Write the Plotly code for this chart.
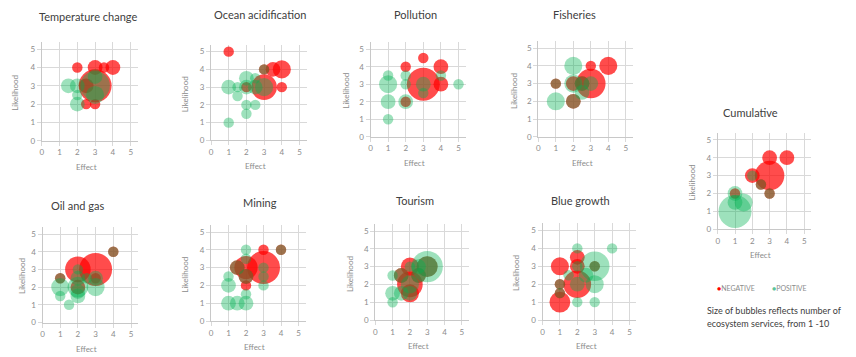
import plotly.graph_objects as go

# ---------------- data: (effect, likelihood, number of ecosystem services) ----------------
temp_neg = [(2, 4, 1), (3, 4, 2), (3.5, 4, 1), (4, 4, 2), (3, 3, 10), (2.5, 3, 2), (2.5, 2, 1), (3, 2, 1)]
temp_pos = [(1.5, 3, 2), (2, 3, 2), (2, 2.5, 1), (2, 2, 2), (3, 3.5, 2), (3, 2.5, 3), (3, 3, 8)]

ocean_neg = [(1, 5, 1), (3.5, 4, 2), (4, 4, 3), (3, 3, 6), (4, 3, 1), (2, 3, 1), (3, 4, 1)]
ocean_pos = [(1, 3, 2), (1, 1, 1), (1.5, 3, 1), (1.5, 2.5, 1), (2, 3.5, 2), (2, 3, 2), (2, 2, 1),
             (2, 1.5, 1), (2.5, 2, 1), (2.5, 3, 2), (2.5, 3.5, 1), (3, 4, 1), (3, 3, 3)]

poll_neg = [(2, 4, 1), (2, 2, 1), (3, 4.5, 1), (4, 4, 2), (3, 3, 10), (4, 3, 2)]
poll_pos = [(1, 3.5, 1), (1, 3, 3), (1, 2, 2), (1, 1, 1), (2, 3.5, 1), (2, 2, 2), (2, 3, 1),
            (3, 3, 2), (3, 2.5, 1), (4, 3.5, 1), (5, 3, 1)]

fish_neg = [(1, 3, 1), (2, 3, 2), (2, 2, 2), (3, 4, 1), (4, 4, 3), (3, 3, 8), (2.5, 3, 2)]
fish_pos = [(2, 4, 3), (1, 2, 3), (1, 3, 1), (2, 2, 2), (2, 3, 3), (2.5, 3, 2), (2.5, 2.5, 2), (3, 3, 2)]

oil_neg = [(4, 4, 1), (3, 3, 10), (2, 3, 6), (1, 2.5, 1), (2, 2, 2), (3, 2.5, 1)]
oil_pos = [(4, 4, 1), (1, 2.5, 1), (1, 2, 3), (1, 1.5, 1), (1.5, 1, 1), (2, 1.5, 2), (2, 2, 4),
           (2, 1.75, 2), (3, 2, 3), (3, 2.5, 2), (2, 3, 1), (2.5, 2.5, 1), (2, 2.5, 2)]

mining_neg = [(4, 4, 1), (3, 4, 1), (3, 3, 10), (2, 3, 5), (2, 2, 1), (1.5, 3, 2), (2, 2.5, 2)]
mining_pos = [(4, 4, 1), (2, 4, 1), (2, 3.5, 1), (1.5, 3, 2), (2, 2.5, 2), (1, 2.5, 1), (1, 2, 2),
              (1, 1, 2), (1.5, 1, 2), (2, 1, 2), (2, 1.5, 1), (3, 2, 1), (3, 2.5, 1), (3, 3, 1)]

tour_neg = [(2, 3, 3), (2, 2, 6), (2, 1.5, 3), (3, 3, 4), (2.5, 2.5, 2), (1.5, 2.5, 2)]
tour_pos = [(1, 2.5, 1), (1, 1.5, 2), (1, 1, 1), (1.5, 1.5, 2), (1.5, 2.5, 2), (2, 2, 3), (2, 1.5, 2),
            (2.5, 2.5, 2), (2.5, 3, 2), (3, 3, 9), (3, 3, 4), (2, 3, 1)]

blue_neg = [(1, 3, 3), (1, 1, 4), (2, 2, 7), (2, 3.5, 2), (2, 3, 2), (1, 2, 1), (1, 1.5, 1), (3, 3, 1)]
blue_pos = [(2, 4, 1), (4, 4, 1), (3, 3, 8), (3, 2, 3), (3, 1, 1), (2, 1, 1), (2, 3, 1), (3, 3, 1),
            (1, 2, 1), (1, 1.5, 1), (2, 2, 2), (2.5, 2.5, 2), (1.5, 2.5, 1)]

cum_neg = [(3, 4, 2), (4, 4, 2), (3, 3, 8), (2, 3, 2), (2.5, 2.5, 1), (3, 2, 1), (1, 2, 1)]
cum_pos = [(1, 1, 10), (1.5, 1.5, 3), (1, 1.5, 2), (1, 2, 2), (2, 3, 1), (2.5, 2.5, 1), (3, 2, 1)]

titles = ["Temperature change", "Ocean acidification", "Pollution", "Fisheries",
          "Oil and gas", "Mining", "Tourism", "Blue growth", "Cumulative"]
series = [(temp_neg, temp_pos), (ocean_neg, ocean_pos), (poll_neg, poll_pos), (fish_neg, fish_pos),
          (oil_neg, oil_pos), (mining_neg, mining_pos), (tour_neg, tour_pos), (blue_neg, blue_pos),
          (cum_neg, cum_pos)]
tick_vals = [0, 1, 2, 3, 4, 5]
legend_labels = ["NEGATIVE", "POSITIVE"]
note_lines = ["Size of bubbles reflects number of", "ecosystem services, from 1 -10"]

# ---------------- layout (pixels of the 856x357 window) ----------------
WIN_W, WIN_H = 856, 357
OFF = 8                      # default page margin around the plot div
W, H = WIN_W - OFF, WIN_H - OFF
AMAX = 5.4
# x pixel of effect 0, px per unit, y pixel of likelihood 0, px per unit, title x, title y, ylabel offset
geom = [
    (41.7, 17.8, 140.7, 18.3, 88, 17, 27),
    (211.0, 17.7, 140.4, 17.75, 260, 14.5, 26),
    (370.5, 17.6, 136.7, 17.5, 415, 14.5, 24),
    (538.3, 17.5, 136.7, 17.7, 574, 14.5, 25),
    (42.5, 17.7, 322.5, 17.7, 78, 205, 20),
    (211.0, 17.5, 321.0, 17.8, 260, 202, 26),
    (375.3, 17.3, 320.0, 17.8, 415, 200, 26),
    (542.5, 17.4, 320.0, 17.9, 580, 200, 26),
    (717.7, 17.3, 229.3, 17.9, 750, 112, 26),
]

NEG = "#ff0000"
POS = "rgba(0,176,80,0.55)"
SIZEREF = 2 * 10 / (33.0 ** 2)
FONT = "Lato, 'Liberation Sans', sans-serif"
GRID = "#d9d9d9"
TICKC = "#8c8c8c"

fig = go.Figure()
annotations = []


def px(x, y):
    return (x - OFF) / W, 1 - (y - OFF) / H


for i, (title, (neg, pos)) in enumerate(zip(titles, series)):
    x0, xs, y0, ys, tx, ty, yoff = geom[i]
    sfx = "" if i == 0 else str(i + 1)
    for pts, color in ((neg, NEG), (pos, POS)):
        fig.add_trace(go.Scatter(
            x=[p[0] for p in pts], y=[p[1] for p in pts], mode="markers",
            marker=dict(size=[p[2] for p in pts], sizemode="area", sizeref=SIZEREF,
                        color=color, line=dict(width=0)),
            xaxis="x" + sfx, yaxis="y" + sfx, showlegend=False, hoverinfo="skip"))
    common = dict(range=[0, AMAX], tickvals=tick_vals, showgrid=True, gridcolor=GRID, gridwidth=1,
                  zeroline=False, showline=True, linecolor="#c8c8c8", linewidth=1,
                  ticks="outside", ticklen=4, tickcolor=GRID, automargin=False,
                  tickfont=dict(family=FONT, size=8, color=TICKC), fixedrange=True)
    xa, _ = px(x0, 0)
    xb, _ = px(x0 + AMAX * xs, 0)
    _, ya = px(0, y0)
    _, yb = px(0, y0 - AMAX * ys)
    fig.layout["xaxis" + sfx] = dict(common, domain=[xa, xb], anchor="y" + sfx)
    fig.layout["yaxis" + sfx] = dict(common, domain=[ya, yb], anchor="x" + sfx)
    # title
    ax_, ay_ = px(tx, ty)
    annotations.append(dict(text=title, x=ax_, y=ay_, xref="paper", yref="paper", showarrow=False,
                            xanchor="center", yanchor="middle",
                            font=dict(family=FONT, size=11, color="#404040")))
    # axis titles
    ex, ey = px(x0 + 2.5 * xs, y0 + 26)
    annotations.append(dict(text="Effect", x=ex, y=ey, xref="paper", yref="paper", showarrow=False,
                            xanchor="center", yanchor="middle",
                            font=dict(family=FONT, size=8, color=TICKC)))
    lx, ly = px(x0 - yoff, y0 - 2.6 * ys)
    annotations.append(dict(text="Likelihood", x=lx, y=ly, xref="paper", yref="paper", showarrow=False,
                            xanchor="center", yanchor="middle", textangle=-90,
                            font=dict(family=FONT, size=8, color=TICKC)))

# legend
for lab, col, (lxp, lyp) in zip(legend_labels, ["#ff0000", "#5cc49a"], [(715, 288), (770, 288)]):
    a, b = px(lxp, lyp)
    annotations.append(dict(text=f"<span style='color:{col}'>●</span>{lab}", x=a, y=b,
                            xref="paper", yref="paper", showarrow=False, xanchor="left", yanchor="middle",
                            font=dict(family=FONT, size=7, color="#8c8c8c")))
# note
for line, yy in zip(note_lines, [310, 323]):
    a, b = px(705, yy)
    annotations.append(dict(text=line, x=a, y=b, xref="paper", yref="paper", showarrow=False,
                            xanchor="left", yanchor="middle",
                            font=dict(family=FONT, size=9, color="#404040")))

fig.update_layout(width=W, height=H, margin=dict(l=0, r=0, t=0, b=0, autoexpand=False),
                  paper_bgcolor="white", plot_bgcolor="white", annotations=annotations,
                  showlegend=False)
fig.write_html("out.html", config={"displayModeBar": False})
